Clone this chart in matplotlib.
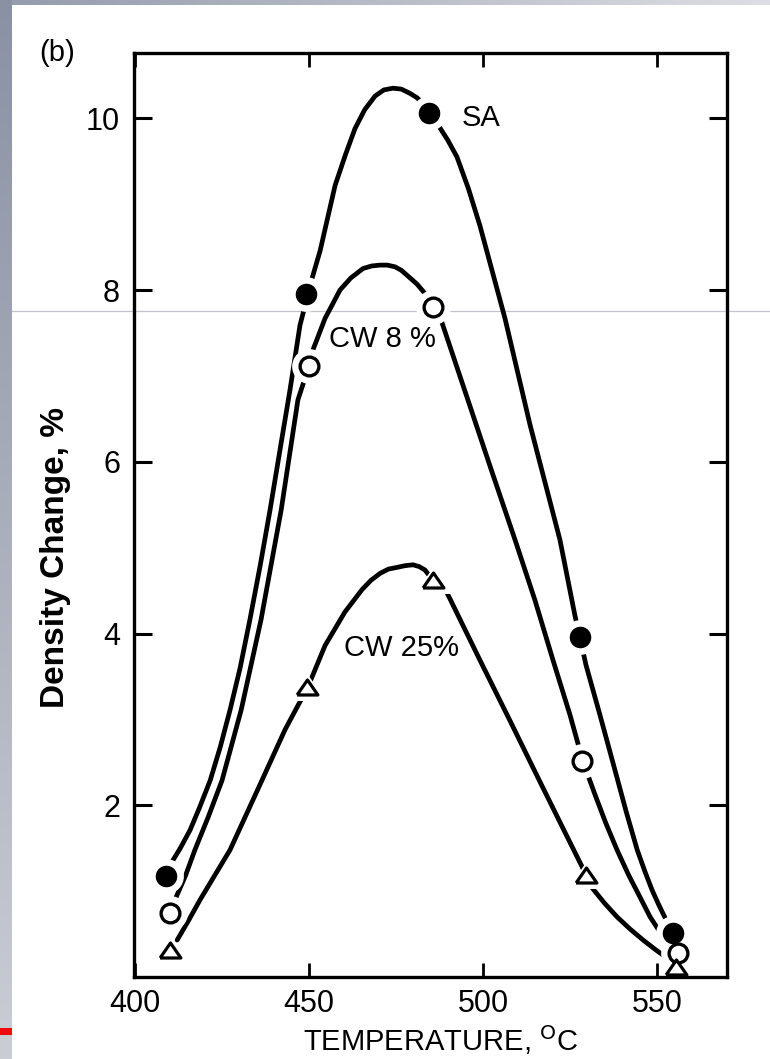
import numpy as np
import matplotlib.pyplot as plt
import matplotlib as mpl
from matplotlib.patches import Rectangle

# measured density change (%) vs irradiation temperature (C)
temp_sa = [409, 449, 484.5, 528, 554.5]
dens_sa = [1.18, 7.95, 10.06, 3.96, 0.51]
temp_cw8 = [410, 450, 485.5, 528.5, 556]
dens_cw8 = [0.75, 7.12, 7.80, 2.51, 0.28]
temp_cw25 = [410, 449.5, 485.5, 529.5, 555.5]
dens_cw25 = [0.31, 3.38, 4.62, 1.19, 0.12]

# hand-drawn trend curves through the points
curve_sa_x = [410.6, 413.0, 415.8, 418.5, 421.6, 424.5, 427.3, 430.2, 433.0, 436.0,
              438.8, 441.7, 444.5, 447.4, 450.9, 453.2, 457.5, 460.5, 463.2, 466.0,
              469.0, 471.5, 474.1, 476.5, 479.0, 481.0, 482.8, 485.0, 487.1, 489.8,
              492.5, 495.8, 499.1, 506.3, 513.5, 522.1, 526.4, 529.6, 533.6, 537.9,
              541.1, 544.3, 546.5, 548.6, 550.5, 552.3]
curve_sa_y = [1.34, 1.50, 1.71, 1.97, 2.29, 2.68, 3.11, 3.60, 4.16, 4.80,
              5.44, 6.15, 6.83, 7.59, 8.14, 8.46, 9.22, 9.58, 9.88, 10.10,
              10.26, 10.33, 10.35, 10.34, 10.29, 10.24, 10.17, 10.05, 9.92, 9.75,
              9.55, 9.18, 8.75, 7.67, 6.43, 5.09, 4.21, 3.63, 3.05, 2.41,
              1.93, 1.48, 1.23, 1.01, 0.84, 0.69]
curve_cw8_x = [411.8, 414.5, 417.2, 421.0, 425.0, 430.5, 436.2, 442.0, 446.8, 450.0,
               451.1, 454.6, 458.9, 462.0, 465.5, 468.0, 470.4, 472.5, 474.7, 476.5,
               478.2, 481.0, 483.3, 485.6, 488.2, 495.4, 502.0, 509.2, 514.9, 520.1,
               525.0, 528.7, 532.2, 535.3, 538.5, 541.8, 545.1, 548.0, 550.9, 554.3]
curve_cw8_y = [0.93, 1.18, 1.48, 1.86, 2.29, 3.11, 4.16, 5.44, 6.72, 7.12,
               7.30, 7.67, 8.00, 8.14, 8.25, 8.28, 8.29, 8.29, 8.27, 8.23,
               8.17, 8.07, 7.96, 7.80, 7.62, 6.75, 5.95, 5.09, 4.39, 3.69,
               3.05, 2.51, 2.12, 1.79, 1.48, 1.19, 0.93, 0.70, 0.52, 0.36]
curve_cw25_x = [412.1, 415.4, 418.7, 423.0, 427.3, 435.9, 443.1, 449.7, 454.6, 460.3,
                465.2, 467.8, 470.4, 472.8, 475.3, 477.6, 479.9, 481.6, 483.3, 485.6,
                489.7, 499.1, 507.8, 516.4, 523.6, 529.6, 531.3, 534.9, 538.5, 542.2,
                546.0, 549.5, 552.9, 555.2]
curve_cw25_y = [0.43, 0.66, 0.90, 1.19, 1.48, 2.24, 2.88, 3.38, 3.86, 4.25,
                4.51, 4.62, 4.70, 4.75, 4.77, 4.79, 4.80, 4.78, 4.74, 4.62,
                4.47, 3.69, 2.98, 2.27, 1.68, 1.19, 1.04, 0.86, 0.70, 0.56,
                0.43, 0.32, 0.22, 0.16]

xticks = [400, 450, 500, 550]
yticks = [2, 4, 6, 8, 10]

sans = ['Liberation Sans', 'DejaVu Sans']

W, H = 770, 1059
fig = plt.figure(figsize=(W / 100, H / 100), dpi=100)
fig.patch.set_facecolor('white')

# slide frame: grey strips on the left and top, small red mark
left_strip = fig.add_axes([0, 0, 12 / W, 1])
left_strip.imshow(np.linspace(0, 1, 256).reshape(-1, 1), aspect='auto',
                  cmap=mpl.colors.LinearSegmentedColormap.from_list('', ['#8a91a3', '#cacdd4']))
left_strip.axis('off')
top_strip = fig.add_axes([12 / W, 1 - 5 / H, 1 - 12 / W, 5 / H])
top_strip.imshow(np.linspace(0, 1, 256).reshape(1, -1), aspect='auto',
                 cmap=mpl.colors.LinearSegmentedColormap.from_list('', ['#959cad', '#dddee3']))
top_strip.axis('off')
fig.patches.append(Rectangle((0, 1 - 1035 / H), 12 / W, 7 / H, transform=fig.transFigure,
                             facecolor='#ee0a0a', edgecolor='none', zorder=3))

ax = fig.add_axes([134 / W, 1 - 977 / H, (727 - 134) / W, (977 - 53) / H])
ax.set_facecolor('white')

ax.plot([12 / W, 1], [1 - 311 / H, 1 - 311 / H], transform=fig.transFigure,
        clip_on=False, color='#c3c4cb', lw=0.9, zorder=0.5)

for cx, cy in [(curve_sa_x, curve_sa_y), (curve_cw8_x, curve_cw8_y), (curve_cw25_x, curve_cw25_y)]:
    ax.plot(cx, cy, color='black', lw=3.4, solid_capstyle='round',
            solid_joinstyle='round', zorder=2)

tri = [(-1, -0.72), (1, -0.72), (0, 0.72), (-1, -0.72)]

# white halos break the curves around each point
for tx, dy, mk, ms in [(temp_sa, dens_sa, 'o', 25), (temp_cw8, dens_cw8, 'o', 25),
                       (temp_cw25, dens_cw25, tri, 27)]:
    ax.plot(tx, dy, ls='none', marker=mk, ms=ms, mfc='white', mec='none', zorder=3)

ax.plot(temp_sa, dens_sa, ls='none', marker='o', ms=14.5, mfc='black', mec='black', zorder=4)
ax.plot(temp_cw8, dens_cw8, ls='none', marker='o', ms=13.5, mfc='white', mec='black',
        mew=2.4, zorder=4)
ax.plot(temp_cw25, dens_cw25, ls='none', marker=tri, ms=15, mfc='white', mec='black',
        mew=2.3, zorder=4)

ax.text(499.4, 10.0, 'SA', fontsize=21, family=sans, ha='center', va='center')
ax.text(471.0, 7.43, 'CW 8 %', fontsize=21, family=sans, ha='center', va='center')
ax.text(476.7, 3.83, 'CW 25%', fontsize=21, family=sans, ha='center', va='center')

ax.set_xlim(399.7, 570.1)
ax.set_ylim(0, 10.76)
ax.set_xticks(xticks)
ax.set_yticks(yticks)
ax.tick_params(axis='y', direction='in', length=13, width=2.2, pad=10,
               right=True, labelsize=22, labelfontfamily=sans)
ax.tick_params(axis='x', direction='in', length=10, width=2.0, pad=9,
               top=True, labelsize=22, labelfontfamily=sans)
for sp in ax.spines.values():
    sp.set_linewidth(2.4)
    sp.set_zorder(6)

fig.text(57 / W, 1 - 53 / H, '(b)', fontsize=21, family=sans, ha='center', va='center')
fig.text(56 / W, 1 - 557 / H, 'Density Change, %', fontsize=24, fontweight='bold',
         family=sans, rotation=90, ha='center', va='center')
fig.text(441 / W, 1 - 1051 / H, r'TEMPERATURE, $^{\mathrm{O}}$C', fontsize=21,
         family=sans, ha='center', va='baseline')

fig.savefig('out.png', dpi=100)
